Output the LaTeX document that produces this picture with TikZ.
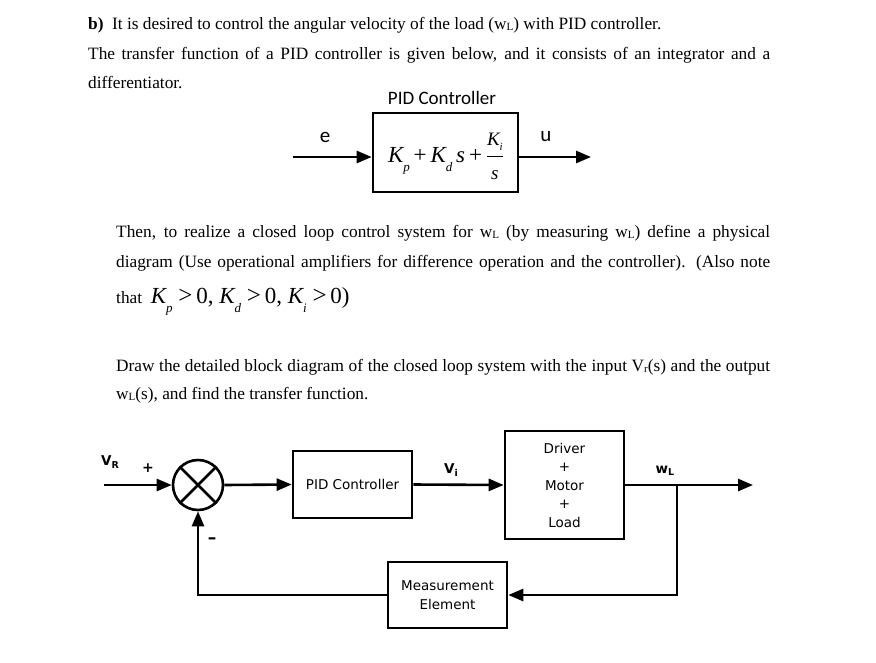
\documentclass[tikz,border=0pt]{standalone}
\usepackage{fontspec}
\setmainfont{Liberation Serif}
\newfontfamily\diag{DejaVu Sans}
\newfontfamily\calib{Carlito}
\usetikzlibrary{arrows.meta}
\newcommand{\sbs}[1]{\raisebox{-0.25ex}{\fontsize{11}{11}\selectfont #1}}
\newcommand{\bigK}[1]{{\itshape K}\raisebox{-0.4em}{\fontsize{13}{13}\selectfont\itshape #1}}
\begin{document}
\begin{tikzpicture}[x=1pt,y=-1pt,
  ln/.style={line width=2.6pt},
  arr/.style={ln,-{Triangle[length=15pt,width=12pt]}},
  blk/.style={draw,line width=2.6pt,inner sep=0pt},
  body/.style={anchor=base west,inner sep=0pt,font=\fontsize{17.3}{20}\selectfont},
  dlab/.style={inner sep=0pt,font=\diag\fontsize{13.5}{18.5}\selectfont},
]
\useasboundingbox (0,0) rectangle (876,662);
\fill[white] (0,0) rectangle (876,662);

% ---- text ----
\node[body] (t1) at (88,29) {\textbf{b)}\ \ It is desired to control the angular velocity of the load (w\sbs{L}) with PID controller.};
\node[body] (t2) at (88,59) {\makebox[682pt][s]{The transfer function of a PID controller is given below, and it consists of an integrator and a}};
\node[body] (t3) at (88,88) {differentiator.};

\node[body] (t4) at (116,237) {\makebox[654pt][s]{Then, to realize a closed loop control system for w\sbs{L} (by measuring w\sbs{L}) define a physical}};
\node[body] (t5) at (116,267) {\makebox[654pt][s]{diagram (Use operational amplifiers for difference operation and the controller). (Also note}};
\node[body] (t6) at (116,303) {that\ \ {\fontsize{23}{23}\selectfont\bigK{p}\ {\fontsize{25}{25}\selectfont\textgreater}\,0,\ \bigK{d}\ {\fontsize{25}{25}\selectfont\textgreater}\,0,\ \bigK{i}\ {\fontsize{25}{25}\selectfont\textgreater}\,0)}};

\node[body] (t7) at (116,371) {\makebox[654pt][s]{Draw the detailed block diagram of the closed loop system with the input V\sbs{r}(s) and the output}};
\node[body] (t8) at (116,399) {w\sbs{L}(s), and find the transfer function.};

% ---- top PID diagram ----
\node[inner sep=0pt,font=\calib\fontsize{19}{19}\selectfont] (ptitle) at (442,98) {PID Controller};
\node[blk,minimum width=145pt,minimum height=79pt] (pidA) at (445.5,152.5) {};
\node[inner sep=0pt,font=\fontsize{23}{23}\selectfont] (form) at (446,156)
  {\bigK{p}\,+\,\bigK{d}\,{\itshape s}\,+\,$\displaystyle\frac{\mbox{\fontsize{19}{19}\selectfont\itshape K\raisebox{-0.3em}{\fontsize{11}{11}\selectfont i}}}{\mbox{\fontsize{19}{19}\selectfont\itshape s}}$};
\coordinate (ein) at (293,157);
\coordinate (uout) at (591,157);
\draw[arr] (ein) -- (pidA.west |- ein);
\draw[arr] (pidA.east |- uout) -- (uout);
\node[inner sep=0pt,font=\calib\fontsize{21}{21}\selectfont] (elab) at (325,137) {e};
\node[inner sep=0pt,font=\calib\fontsize{21}{21}\selectfont] (ulab) at (546,137) {u};

% ---- lower block diagram ----
\node[draw,circle,ln,minimum size=50pt,inner sep=0pt] (sum) at (198,485) {};
\draw[ln] (sum.north west) -- (sum.south east);
\draw[ln] (sum.north east) -- (sum.south west);
\node[blk,dlab,minimum width=119pt,minimum height=67pt] (pid) at (352.5,484.5) {PID Controller};
\node[blk,dlab,align=center,minimum width=119pt,minimum height=108pt] (plant) at (564.5,485) {Driver\\+\\Motor\\+\\Load};
\node[blk,dlab,align=center,minimum width=119pt,minimum height=66pt] (meas) at (447.5,595) {Measurement\\Element};
\coordinate (vin) at (104,485);
\coordinate (wout) at (753,485);
\coordinate (br) at (677,485);

\draw[arr] (vin) -- (sum.west);
\draw[arr] (sum.east) -- (pid.west);
\draw[arr] (pid.east) -- (plant.west);
\draw[arr] (plant.east) -- (wout);
\draw[arr] (br) |- (meas.east);
\draw[arr] (meas.west) -| (sum.south);

\node[dlab,font=\diag\bfseries\fontsize{13.5}{13.5}\selectfont] (vr) at (110,462) {V\raisebox{-0.3ex}{\fontsize{9.5}{9.5}\selectfont R}};
\node[dlab,font=\diag\bfseries\fontsize{14}{14}\selectfont] (plus) at (148,468) {+};
\node[dlab,font=\diag\bfseries\fontsize{17}{17}\selectfont] (minus) at (212,541) {–};
\node[dlab,font=\diag\bfseries\fontsize{13.5}{13.5}\selectfont] (vi) at (451,470) {V\raisebox{-0.3ex}{\fontsize{9.5}{9.5}\selectfont i}};
\node[dlab,font=\diag\bfseries\fontsize{13.5}{13.5}\selectfont] (wl) at (665,471) {w\raisebox{-0.3ex}{\fontsize{9.5}{9.5}\selectfont L}};
\end{tikzpicture}
\end{document}
